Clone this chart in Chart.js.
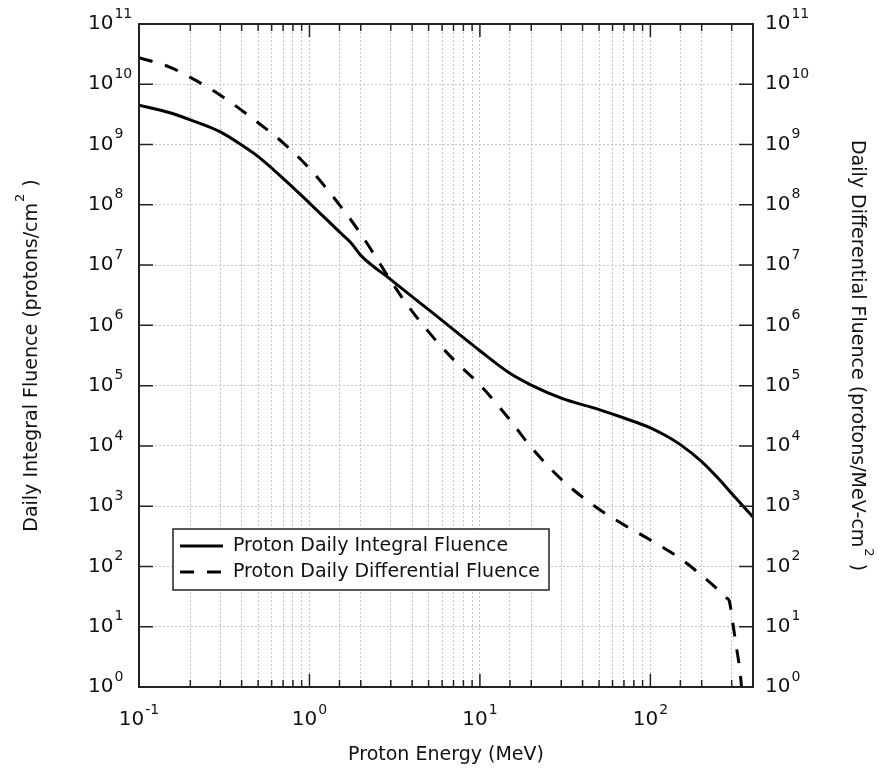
<!DOCTYPE html>
<html>
<head>
<meta charset="utf-8">
<title>Proton Daily Fluence</title>
<script src="https://cdn.jsdelivr.net/npm/chart.js@4.4.1/dist/chart.umd.min.js"></script>
<style>
  html, body { margin: 0; padding: 0; background: #fff; }
  #wrap { width: 883px; height: 769px; }
</style>
</head>
<body>
<div id="wrap"><canvas id="chartCanvas" width="883" height="769"></canvas></div>
<script>
// Integral fluence (protons/cm^2)
const integralEnergy = [0.1, 0.15, 0.2, 0.3, 0.4, 0.5, 0.7, 1, 1.5, 1.75, 2, 3, 4, 5, 7, 10, 15, 20, 30, 50, 70, 100, 125, 150, 200, 250, 300, 400];
const integralFluence = [4.5e9, 3.4e9, 2.57e9, 1.62e9, 9.8e8, 6.3e8, 2.75e8, 1.07e8, 3.55e7, 2.35e7, 1.45e7, 5.75e6, 3.0e6, 1.82e6, 8.5e5, 3.8e5, 1.6e5, 1.02e5, 6.2e4, 4.0e4, 2.9e4, 2.0e4, 1.45e4, 1.05e4, 5.5e3, 2.9e3, 1.62e3, 6.6e2];

// Differential fluence (protons/MeV-cm^2)
const diffEnergy = [0.1, 0.15, 0.2, 0.3, 0.5, 0.7, 1, 1.5, 2, 3, 3.7, 5, 7, 10, 15, 20, 30, 50, 70, 100, 150, 200, 250, 280, 290, 298, 306, 320, 335, 341, 350];
const diffFluence = [2.75e10, 1.95e10, 1.3e10, 6.6e9, 2.3e9, 1.07e9, 4.0e8, 1.0e8, 3.3e7, 5.5e6, 2.3e6, 7.8e5, 2.7e5, 1.03e5, 2.7e4, 9.5e3, 2.8e3, 8.9e2, 4.9e2, 2.75e2, 1.35e2, 71, 41, 30, 27, 18, 10.5, 4.5, 1.9, 1.15, 0.5];

const seriesLabels = ["Proton Daily Integral Fluence", "Proton Daily Differential Fluence"];

// axis ranges and decade labels
const xMin = 0.1, xMax = 400;
const yMin = 1, yMax = 1e11;
const xDecades = [-1, 0, 1, 2];
const yDecades = [0, 1, 2, 3, 4, 5, 6, 7, 8, 9, 10, 11];

const xTitle = "Proton Energy (MeV)";
const yLeftTitle = ["Daily Integral Fluence (protons/cm", "2", " )"];
const yRightTitle = ["Daily Differential Fluence (protons/MeV-cm", "2", " )"];

const FONT = '"DejaVu Sans", sans-serif';
const DASH = [14, 13];

function toPoints(xs, ys) {
    return xs.map((x, i) => ({ x: x, y: ys[i] }));
}

function isDecade(v) {
    const l = Math.log10(v);
    return Math.abs(l - Math.round(l)) < 1e-9;
}

// "10" with a raised exponent
function drawPower(ctx, x, y, exp, align) {
    ctx.font = "20px " + FONT;
    const wBase = ctx.measureText("10").width;
    ctx.font = "14px " + FONT;
    const wExp = ctx.measureText(String(exp)).width;
    let start = x;
    if (align === "center") start = x - (wBase + wExp + 1) / 2;
    ctx.textBaseline = "middle";
    ctx.textAlign = "left";
    ctx.font = "20px " + FONT;
    ctx.fillText("10", start, y);
    ctx.font = "14px " + FONT;
    ctx.fillText(String(exp), start + wBase + 1, y - 10);
}

// rotated title with a superscript piece
function drawRotatedTitle(ctx, parts, cx, cy, angle) {
    ctx.save();
    ctx.translate(cx, cy);
    ctx.rotate(angle);
    ctx.textBaseline = "middle";
    ctx.textAlign = "left";
    ctx.font = "19px " + FONT;
    const w0 = ctx.measureText(parts[0]).width;
    const w2 = ctx.measureText(parts[2]).width;
    ctx.font = "13px " + FONT;
    const w1 = ctx.measureText(parts[1]).width;
    let x = -(w0 + w1 + w2 + 2) / 2;
    ctx.font = "19px " + FONT;
    ctx.fillText(parts[0], x, 0);
    x += w0 + 1;
    ctx.font = "13px " + FONT;
    ctx.fillText(parts[1], x, -11);
    x += w1 + 1;
    ctx.font = "19px " + FONT;
    ctx.fillText(parts[2], x, 0);
    ctx.restore();
}

const decorPlugin = {
    id: "decor",
    afterDraw(chart) {
        const ctx = chart.ctx;
        const area = chart.chartArea;
        const xs = chart.scales.x;
        const ys = chart.scales.y;
        ctx.save();
        ctx.fillStyle = "#111";
        ctx.strokeStyle = "#222";

        // inward tick marks
        ctx.lineWidth = 1.5;
        ctx.beginPath();
        xs.ticks.forEach(t => {
            const px = xs.getPixelForValue(t.value);
            const len = isDecade(t.value) ? 13 : 7;
            ctx.moveTo(px, area.bottom);
            ctx.lineTo(px, area.bottom - len);
            ctx.moveTo(px, area.top);
            ctx.lineTo(px, area.top + len);
        });
        yDecades.forEach(d => {
            const py = ys.getPixelForValue(Math.pow(10, d));
            ctx.moveTo(area.left, py);
            ctx.lineTo(area.left + 14, py);
            ctx.moveTo(area.right, py);
            ctx.lineTo(area.right - 14, py);
        });
        ctx.stroke();

        // frame
        ctx.lineWidth = 2;
        ctx.strokeRect(area.left, area.top, area.right - area.left, area.bottom - area.top);

        // tick labels
        yDecades.forEach(d => {
            const py = ys.getPixelForValue(Math.pow(10, d));
            drawPower(ctx, 88, py, d, "left");
            drawPower(ctx, 765, py, d, "left");
        });
        xDecades.forEach(d => {
            const px = xs.getPixelForValue(Math.pow(10, d));
            drawPower(ctx, px, 720, d, "center");
        });

        // axis titles
        ctx.font = "19px " + FONT;
        ctx.textAlign = "center";
        ctx.textBaseline = "middle";
        ctx.fillText(xTitle, (area.left + area.right) / 2, 755);
        drawRotatedTitle(ctx, yLeftTitle, 32, (area.top + area.bottom) / 2, -Math.PI / 2);
        drawRotatedTitle(ctx, yRightTitle, 857, (area.top + area.bottom) / 2, Math.PI / 2);

        // legend box
        const lx = 173, ly = 529, lw = 376, lh = 61;
        ctx.fillStyle = "#fff";
        ctx.fillRect(lx, ly, lw, lh);
        ctx.lineWidth = 1.5;
        ctx.strokeStyle = "#222";
        ctx.strokeRect(lx, ly, lw, lh);
        chart.data.datasets.forEach((ds, i) => {
            const rowY = ly + 17 + i * 26;
            ctx.beginPath();
            ctx.lineWidth = ds.borderWidth;
            ctx.strokeStyle = ds.borderColor;
            ctx.setLineDash(ds.borderDash || []);
            ctx.moveTo(180, rowY);
            ctx.lineTo(223, rowY);
            ctx.stroke();
            ctx.setLineDash([]);
            ctx.fillStyle = "#111";
            ctx.font = "19px " + FONT;
            ctx.textAlign = "left";
            ctx.textBaseline = "middle";
            ctx.fillText(ds.label, 233, rowY);
        });
        ctx.restore();
    }
};

const gridColor = "#c4c4c4";

const ctx = document.getElementById("chartCanvas").getContext("2d");
const chart = new Chart(ctx, {
    type: "line",
    data: {
        datasets: [
            {
                label: seriesLabels[0],
                data: toPoints(integralEnergy, integralFluence),
                borderColor: "#000",
                borderWidth: 3,
                pointRadius: 0,
                cubicInterpolationMode: "monotone",
                fill: false,
                yAxisID: "y",
            },
            {
                label: seriesLabels[1],
                data: toPoints(diffEnergy, diffFluence),
                borderColor: "#000",
                borderWidth: 3,
                borderDash: DASH,
                pointRadius: 0,
                cubicInterpolationMode: "monotone",
                fill: false,
                yAxisID: "y",
            },
        ],
    },
    options: {
        responsive: false,
        animation: false,
        layout: {
            padding: { left: 139, right: 130, top: 24, bottom: 82 },
        },
        plugins: {
            legend: { display: false },
            tooltip: { enabled: false },
        },
        scales: {
            x: {
                type: "logarithmic",
                min: xMin,
                max: xMax,
                ticks: { display: false },
                grid: { color: gridColor, lineWidth: 1, drawTicks: false },
                border: { display: false, dash: [2, 2] },
                afterFit: s => { s.height = 0; },
            },
            y: {
                type: "logarithmic",
                position: "left",
                min: yMin,
                max: yMax,
                ticks: { display: false },
                grid: {
                    color: c => (c.tick && isDecade(c.tick.value) ? gridColor : "rgba(0,0,0,0)"),
                    lineWidth: 1,
                    drawTicks: false,
                },
                border: { display: false, dash: [2, 2] },
                afterFit: s => { s.width = 0; },
            },
            y2: {
                type: "logarithmic",
                position: "right",
                min: yMin,
                max: yMax,
                ticks: { display: false },
                grid: { drawOnChartArea: false, drawTicks: false },
                border: { display: false },
                afterFit: s => { s.width = 0; },
            },
        },
    },
    plugins: [decorPlugin],
});
</script>
</body>
</html>
